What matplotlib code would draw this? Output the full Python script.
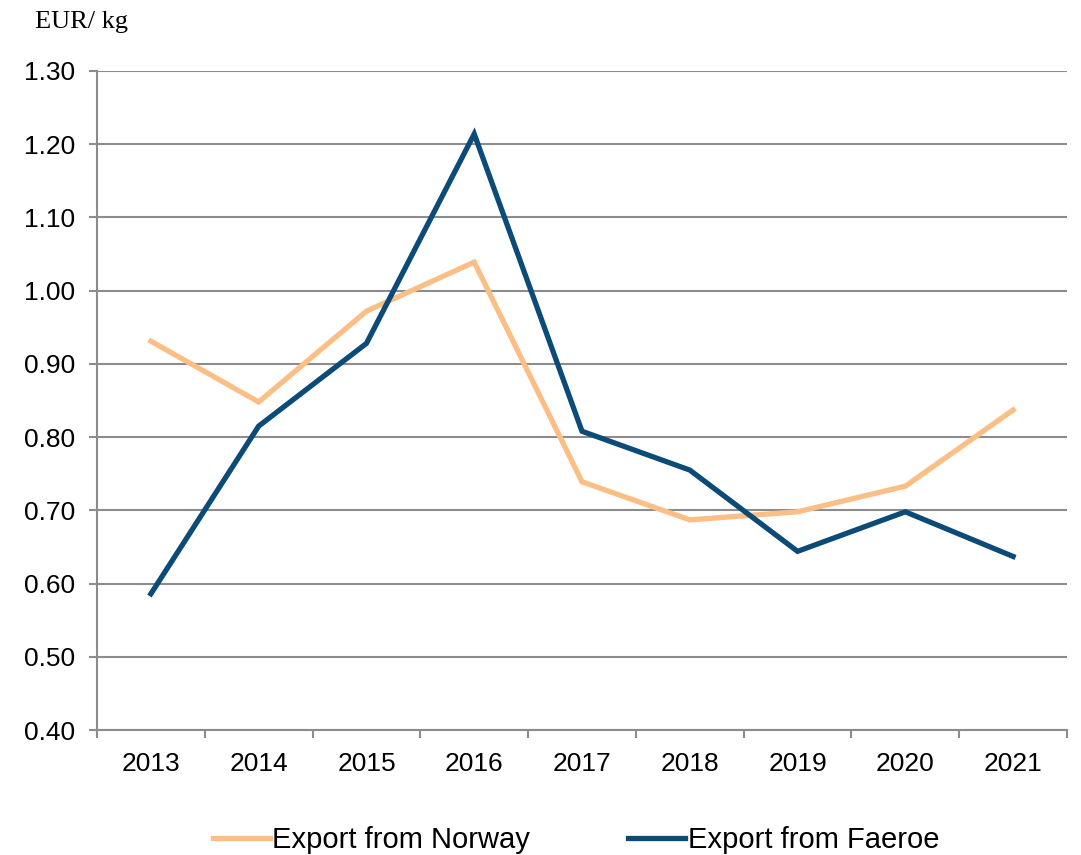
import matplotlib
matplotlib.use("Agg")
import matplotlib.pyplot as plt
import numpy as np

years = ["2013", "2014", "2015", "2016", "2017", "2018", "2019", "2020", "2021"]
norway = [0.931, 0.848, 0.972, 1.039, 0.739, 0.687, 0.698, 0.733, 0.837]
faeroe = [0.586, 0.815, 0.928, 1.214, 0.808, 0.755, 0.644, 0.698, 0.637]
yticks = [0.40, 0.50, 0.60, 0.70, 0.80, 0.90, 1.00, 1.10, 1.20, 1.30]

plt.rcParams['font.family'] = ['Liberation Sans', 'DejaVu Sans']

fig = plt.figure(figsize=(10.81, 8.55), dpi=100)
ax = fig.add_axes([97/1081, 1-730/855, (1067-97)/1081, (730-71)/855])

x = np.arange(len(years))
ln1, = ax.plot(x, norway, color='#FBBE84', lw=3.8, solid_joinstyle='miter', label='Export from Norway')
ln2, = ax.plot(x, faeroe, color='#0C4A77', lw=3.8, solid_joinstyle='miter', label='Export from Faeroe')

ax.set_xlim(-0.5, len(years) - 0.5)
ax.set_ylim(0.40, 1.30)
ax.set_yticks(yticks)
ax.set_yticklabels([f"{v:.2f}" for v in yticks], fontsize=19)
ax.set_xticks(x)
ax.set_xticklabels(years, fontsize=19)
ax.set_xticks(np.arange(-0.5, len(years)), minor=True)
ax.tick_params(axis='x', which='major', length=0, pad=16)
ax.tick_params(axis='x', which='minor', length=6, width=1.5, color='#8C8C8C')
ax.tick_params(axis='y', length=6, width=1.5, color='#8C8C8C', pad=10)

ax.grid(axis='y', color='#8C8C8C', lw=1.5)
ax.set_axisbelow(True)
for s in ['top', 'right']:
    ax.spines[s].set_visible(False)
for s in ['left', 'bottom']:
    ax.spines[s].set_color('#8C8C8C')
    ax.spines[s].set_linewidth(1.5)

fig.text(35/1081, 1-22/855, "EUR/ kg", fontsize=19, family='Liberation Serif', va='center', ha='left')

fig.legend(handles=[ln1, ln2], loc='center', bbox_to_anchor=(576/1081, 1-840/855),
           ncol=2, frameon=False, fontsize=21, handlelength=1.95, handletextpad=0.1,
           columnspacing=3.35)

fig.savefig("out.png", dpi=100)
